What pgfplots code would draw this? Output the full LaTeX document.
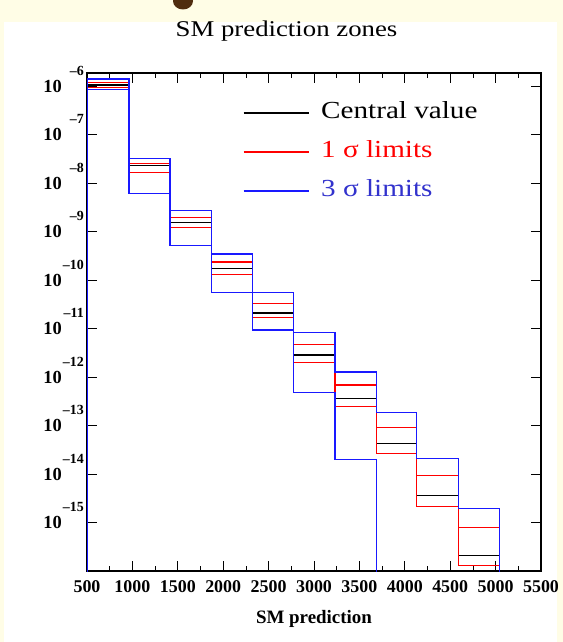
\documentclass[border=0pt]{standalone}
\usepackage{fontspec}
\setmainfont{Liberation Serif}
\usepackage{pgfplots}
\pgfplotsset{compat=1.18}
\definecolor{cream}{RGB}{255,253,230}
\definecolor{hblue}{RGB}{25,25,255}
\definecolor{lblue}{RGB}{50,50,205}
\definecolor{brownish}{RGB}{80,45,15}
\newcommand{\ylab}[1]{{\fontsize{18.5}{18.5}\selectfont\bfseries 10}\makebox[22bp][r]{\raisebox{17bp}{\fontsize{14}{14}\selectfont\bfseries –#1}}}
\begin{document}
\begin{tikzpicture}[x=1bp,y=1bp]
\fill[cream] (0,0) rectangle (563,-642);
\fill[white] (4,-22) rectangle (557,-642);
\begin{scope}
\clip (0,0) rectangle (563,-642);
\fill[brownish] (183,-1) ellipse (10 and 8.5);
\end{scope}
\node[anchor=base, inner sep=0pt, font=\fontsize{22.6}{26}\selectfont] at (286.5,-37) {\scalebox{1.19}[1]{SM prediction zones}};
\begin{axis}[
  at={(87bp,-571bp)}, anchor=south west,
  scale only axis, width=454bp, height=498bp,
  xmin=500, xmax=5500, ymode=log, ymin=1e-16, ymax=1.85e-6,
  xtick={500,1000,1500,2000,2500,3000,3500,4000,4500,5000,5500},
  xticklabels={500,1000,1500,2000,2500,3000,3500,4000,4500,5000,5500},
  minor x tick num=1,
  xticklabel style={font=\fontsize{18}{18}\selectfont\bfseries, inner sep=0pt, anchor=north, yshift=-9bp},
  ytick={1e-6,1e-7,1e-8,1e-9,1e-10,1e-11,1e-12,1e-13,1e-14,1e-15},
  yticklabels={\ylab{6},\ylab{7},\ylab{8},\ylab{9},\ylab{10},\ylab{11},\ylab{12},\ylab{13},\ylab{14},\ylab{15}},
  yticklabel style={anchor=base east, inner sep=0pt, xshift=-3bp, yshift=-6.2bp},
  tick align=inside, major tick length=10bp, minor tick length=5bp,
  tick style={black, line width=0.8bp},
  axis line style={black, line width=1.4bp},
  xlabel={SM prediction},
  xlabel style={font=\fontsize{19}{19}\selectfont\bfseries, at={(axis description cs:0.5,0)}, anchor=base, inner sep=0pt, yshift=-52bp},
  legend style={draw=none, fill=none, at={(0.3436,0.9418)}, anchor=north west, inner sep=0pt, outer sep=0pt,
    row sep=17bp, column sep=12bp, font=\fontsize{24.6}{24.6}\selectfont,
    nodes={inner sep=0pt, text height=17bp, text depth=5bp}},
  legend cell align=left,
  legend image code/.code={\draw[#1] (0bp,0bp) -- (65bp,0bp);},
]
\addplot[black, line width=1.2bp, const plot] coordinates {(500,1.050e-6)(962,2.25e-8)(1414,1.56e-9)(1872,1.71e-10)(2321,2.08e-11)(2778,2.84e-12)(3232,3.58e-13)(3688,4.18e-14)(4133,3.66e-15)(4594,2.07e-16)(5040,2.07e-16)};
\addlegendentry{\scalebox{1.19}[1]{Central value}}
\addplot[red, line width=1.2bp, const plot] coordinates {(500,1.180e-6)(962,2.48e-8)(1414,1.91e-9)(1872,2.34e-10)(2321,3.24e-11)(2778,4.71e-12)(3232,6.87e-13)(3688,8.93e-14)(4133,9.31e-15)(4594,7.80e-16)(5040,7.80e-16)};
\addlegendentry{\textcolor{red}{\scalebox{1.19}[1]{1 σ limits}}}
\addplot[red, line width=1.2bp, const plot, forget plot] coordinates {(500,9.31e-7)(962,1.67e-8)(1414,1.23e-9)(1872,1.28e-10)(2321,1.67e-11)(2778,2.00e-12)(3232,2.42e-13)(3688,2.64e-14)(4133,2.11e-15)(4594,1.32e-16)(5040,1.32e-16)};
\addplot[hblue, line width=1.2bp, const plot] coordinates {(500,1e-20)(500,1.393e-6)(962,3.18e-8)(1414,2.70e-9)(1872,3.42e-10)(2321,5.53e-11)(2778,8.20e-12)(3232,1.27e-12)(3688,1.87e-13)(4133,2.11e-14)(4594,1.92e-15)(5040,1e-20)};
\addlegendentry{\textcolor{lblue}{\scalebox{1.19}[1]{3 σ limits}}}
\addplot[hblue, line width=1.2bp, const plot, forget plot] coordinates {(500,8.47e-7)(962,6.05e-9)(1414,5.14e-10)(1872,5.53e-11)(2321,9.31e-12)(2778,4.83e-13)(3232,1.96e-14)(3688,1e-20)(5040,1e-20)};
\end{axis}
\end{tikzpicture}
\end{document}
